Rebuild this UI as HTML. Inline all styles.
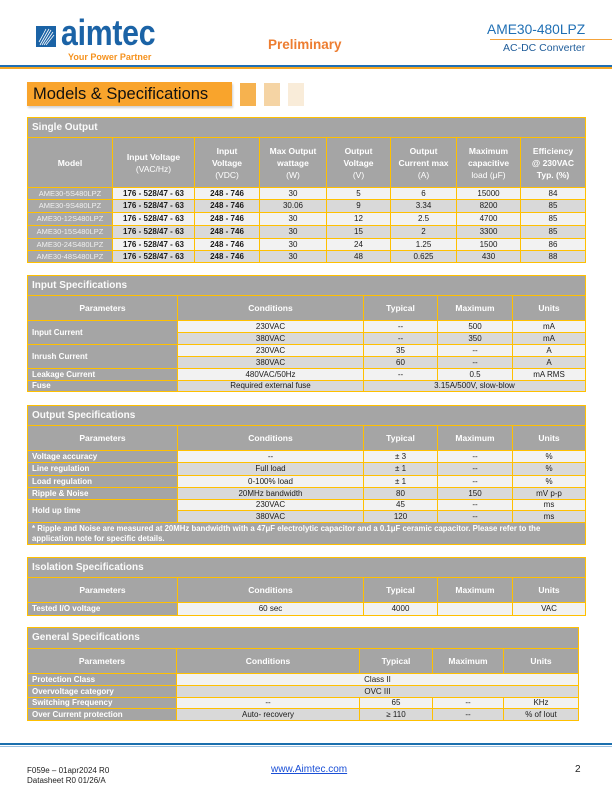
<!DOCTYPE html>
<html><head><meta charset="utf-8">
<style>
*{margin:0;padding:0;box-sizing:border-box}
html,body{width:612px;height:792px;background:#fff;overflow:hidden}
body{position:relative;font-family:"Liberation Sans",sans-serif}
.abs{position:absolute;white-space:nowrap}
.t{position:absolute;display:grid;background:#ffc000;padding:1px;gap:1px;font-family:"Liberation Sans",sans-serif}
.t>div{display:flex;align-items:center;justify-content:center;text-align:center;font-size:8px;color:#1a1a1a;overflow:hidden;white-space:nowrap;line-height:1}
.t>div.ti{background:#a5a5a5;color:#fbfbfb;font-weight:bold;font-size:10px;justify-content:flex-start;padding-left:4px}
.t>div.h{background:#a5a5a5;color:#fff;font-weight:bold;font-size:8.5px;line-height:12px}
.t>div.h i{font-style:normal;font-weight:normal}
.t>div.p{background:#a5a5a5;color:#fff;font-weight:bold;justify-content:flex-start;padding-left:4px}
.t>div.m{background:#a8a8a8;color:#f0f0f0;font-size:7.5px}
.t>div.l{background:#f2f2f2}
.t>div.g{background:#d9d9d9}
.t>div.b{font-weight:bold}
.t>div.note{background:#a5a5a5;color:#fff;font-weight:bold;font-size:7.8px;justify-content:flex-start;text-align:left;padding-left:4px;line-height:10px}
</style></head><body>

<!-- Header logo -->
<svg class="abs" style="left:36px;top:26px" width="20" height="21" viewBox="0 0 20 21">
<rect width="20" height="21" fill="#1b63a6"/>
<g stroke="#fff" stroke-width="0.8" fill="none">
<path d="M4 19 Q9 10 13 3"/><path d="M6 19 Q11 11 15 4"/><path d="M8 19 Q13 12 17 6"/><path d="M10 19 Q14 14 18 9"/><path d="M3 16 Q7 9 10 3"/>
</g>
</svg>
<div class="abs" style="left:61px;top:15px;font-size:36px;font-weight:bold;color:#1b63a6;transform:scaleX(0.84);transform-origin:0 0;line-height:36px;letter-spacing:-0.3px">aimtec</div>
<div class="abs" style="left:68px;top:52px;font-size:9px;font-weight:bold;color:#f5921e;line-height:10px">Your Power Partner</div>

<div class="abs" style="left:268px;top:37px;font-size:13.5px;font-weight:bold;color:#ed7d31;line-height:16px">Preliminary</div>

<div class="abs" style="left:487px;top:22px;font-size:13.8px;color:#1f6fb4;line-height:16px">AME30-480LPZ</div>
<div class="abs" style="left:490px;top:39px;width:122px;height:1px;background:#f5a33a"></div>
<div class="abs" style="left:503px;top:42px;font-size:10.5px;color:#1f5c99;line-height:12px">AC-DC Converter</div>

<div class="abs" style="left:0;top:65px;width:612px;height:1.5px;background:#1f6fb4"></div>
<div class="abs" style="left:0;top:67px;width:612px;height:1.5px;background:#f5a623"></div>

<!-- Models & Specifications -->
<div class="abs" style="left:27px;top:82px;width:205px;height:24px;background:#f9a42c;box-shadow:1px 2px 2px rgba(0,0,0,0.18)"></div>
<div class="abs" style="left:33px;top:85px;font-size:16.5px;color:#111;line-height:19px">Models &amp; Specifications</div>
<div class="abs" style="left:240px;top:83px;width:16px;height:23px;background:#f6b24f"></div>
<div class="abs" style="left:264px;top:83px;width:16px;height:23px;background:#f5d4a4"></div>
<div class="abs" style="left:288px;top:83px;width:16px;height:23px;background:#f9ecd9"></div>

<!-- Single Output -->
<div class="t" style="left:27px;top:117px;grid-template-columns:84px 81px 64px 66px 63px 65px 63px 64px;grid-template-rows:19px 49px 11px 12px 12px 12px 11px 11px">
<div class="ti" style="grid-column:1/9">Single Output</div>
<div class="h"><span>Model</span></div>
<div class="h"><span>Input Voltage<br><i>(VAC/Hz)</i></span></div>
<div class="h"><span>Input<br>Voltage<br><i>(VDC)</i></span></div>
<div class="h"><span>Max Output<br>wattage<br><i>(W)</i></span></div>
<div class="h"><span>Output<br>Voltage<br><i>(V)</i></span></div>
<div class="h"><span>Output<br>Current max<br><i>(A)</i></span></div>
<div class="h"><span>Maximum<br>capacitive<br><i>load (μF)</i></span></div>
<div class="h"><span>Efficiency<br>@ 230VAC<br>Typ. (%)</span></div>

<div class="m">AME30-5S480LPZ</div><div class="l b">176 - 528/47 - 63</div><div class="l b">248 - 746</div><div class="l">30</div><div class="l">5</div><div class="l">6</div><div class="l">15000</div><div class="l">84</div>
<div class="m">AME30-9S480LPZ</div><div class="g b">176 - 528/47 - 63</div><div class="g b">248 - 746</div><div class="g">30.06</div><div class="g">9</div><div class="g">3.34</div><div class="g">8200</div><div class="g">85</div>
<div class="m">AME30-12S480LPZ</div><div class="l b">176 - 528/47 - 63</div><div class="l b">248 - 746</div><div class="l">30</div><div class="l">12</div><div class="l">2.5</div><div class="l">4700</div><div class="l">85</div>
<div class="m">AME30-15S480LPZ</div><div class="g b">176 - 528/47 - 63</div><div class="g b">248 - 746</div><div class="g">30</div><div class="g">15</div><div class="g">2</div><div class="g">3300</div><div class="g">85</div>
<div class="m">AME30-24S480LPZ</div><div class="l b">176 - 528/47 - 63</div><div class="l b">248 - 746</div><div class="l">30</div><div class="l">24</div><div class="l">1.25</div><div class="l">1500</div><div class="l">86</div>
<div class="m">AME30-48S480LPZ</div><div class="g b">176 - 528/47 - 63</div><div class="g b">248 - 746</div><div class="g">30</div><div class="g">48</div><div class="g">0.625</div><div class="g">430</div><div class="g">88</div>
</div>

<!-- Input Specifications -->
<div class="t" style="left:27px;top:275px;grid-template-columns:149px 185px 73px 74px 72px;grid-template-rows:19px 24px 11px 11px 11px 11px 11px 10px">
<div class="ti" style="grid-column:1/6">Input Specifications</div>
<div class="h">Parameters</div><div class="h">Conditions</div><div class="h">Typical</div><div class="h">Maximum</div><div class="h">Units</div>
<div class="p" style="grid-row:span 2">Input Current</div><div class="l">230VAC</div><div class="l">--</div><div class="l">500</div><div class="l">mA</div>
<div class="g">380VAC</div><div class="g">--</div><div class="g">350</div><div class="g">mA</div>
<div class="p" style="grid-row:span 2">Inrush Current</div><div class="l">230VAC</div><div class="l">35</div><div class="l">--</div><div class="l">A</div>
<div class="g">380VAC</div><div class="g">60</div><div class="g">--</div><div class="g">A</div>
<div class="p">Leakage Current</div><div class="l">480VAC/50Hz</div><div class="l">--</div><div class="l">0.5</div><div class="l">mA RMS</div>
<div class="p">Fuse</div><div class="g">Required external fuse</div><div class="g" style="grid-column:span 3">3.15A/500V, slow-blow</div>
</div>

<!-- Output Specifications -->
<div class="t" style="left:27px;top:405px;grid-template-columns:149px 185px 73px 74px 72px;grid-template-rows:19px 24px 11px 12px 11px 11px 10px 11px 21px">
<div class="ti" style="grid-column:1/6">Output Specifications</div>
<div class="h">Parameters</div><div class="h">Conditions</div><div class="h">Typical</div><div class="h">Maximum</div><div class="h">Units</div>
<div class="p">Voltage accuracy</div><div class="l">--</div><div class="l">± 3</div><div class="l">--</div><div class="l">%</div>
<div class="p">Line regulation</div><div class="g">Full load</div><div class="g">± 1</div><div class="g">--</div><div class="g">%</div>
<div class="p">Load regulation</div><div class="l">0-100% load</div><div class="l">± 1</div><div class="l">--</div><div class="l">%</div>
<div class="p">Ripple &amp; Noise</div><div class="g">20MHz bandwidth</div><div class="g">80</div><div class="g">150</div><div class="g">mV p-p</div>
<div class="p" style="grid-row:span 2">Hold up time</div><div class="l">230VAC</div><div class="l">45</div><div class="l">--</div><div class="l">ms</div>
<div class="g">380VAC</div><div class="g">120</div><div class="g">--</div><div class="g">ms</div>
<div class="note" style="grid-column:1/6"><span>* Ripple and Noise are measured at 20MHz bandwidth with a 47μF electrolytic capacitor and a 0.1μF ceramic capacitor. Please refer to the<br>application note for specific details.</span></div>
</div>

<!-- Isolation Specifications -->
<div class="t" style="left:27px;top:557px;grid-template-columns:149px 185px 73px 74px 72px;grid-template-rows:19px 24px 12px">
<div class="ti" style="grid-column:1/6">Isolation Specifications</div>
<div class="h">Parameters</div><div class="h">Conditions</div><div class="h">Typical</div><div class="h">Maximum</div><div class="h">Units</div>
<div class="p">Tested I/O voltage</div><div class="l">60 sec</div><div class="l">4000</div><div class="l"></div><div class="l">VAC</div>
</div>

<!-- General Specifications -->
<div class="t" style="left:27px;top:627px;grid-template-columns:148px 182px 72px 70px 74px;grid-template-rows:20px 24px 11px 11px 10px 11px">
<div class="ti" style="grid-column:1/6">General Specifications</div>
<div class="h">Parameters</div><div class="h">Conditions</div><div class="h">Typical</div><div class="h">Maximum</div><div class="h">Units</div>
<div class="p">Protection Class</div><div class="l" style="grid-column:span 4">Class II</div>
<div class="p">Overvoltage category</div><div class="g" style="grid-column:span 4">OVC III</div>
<div class="p">Switching Frequency</div><div class="l">--</div><div class="l">65</div><div class="l">--</div><div class="l">KHz</div>
<div class="p">Over Current protection</div><div class="g">Auto- recovery</div><div class="g">≥ 110</div><div class="g">--</div><div class="g">% of Iout</div>
</div>

<!-- Footer -->
<div class="abs" style="left:0;top:743px;width:612px;height:2px;background:#1b6fae"></div>
<div class="abs" style="left:0;top:745.5px;width:612px;height:1px;background:#9cc0e0"></div>
<div class="abs" style="left:27px;top:766px;font-size:8px;color:#222;line-height:9px">F059e – 01apr2024 R0</div>
<div class="abs" style="left:27px;top:776px;font-size:8px;color:#222;line-height:9px">Datasheet R0 01/26/A</div>
<div class="abs" style="left:271px;top:764px;font-size:10px;color:#1a4fd6;text-decoration:underline;line-height:11px">www.Aimtec.com</div>
<div class="abs" style="left:575px;top:764px;font-size:10px;color:#222;line-height:11px">2</div>

</body></html>
